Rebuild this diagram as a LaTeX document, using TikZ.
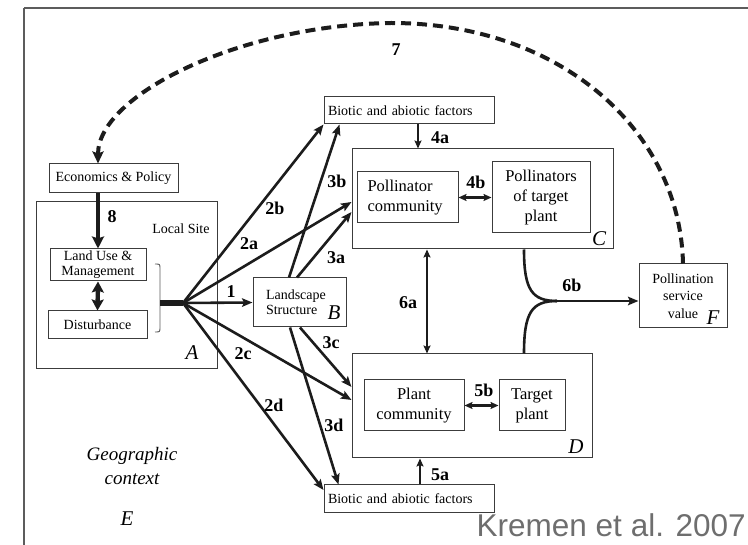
\documentclass[tikz,border=0pt]{standalone}
\usepackage{fontspec}
\setmainfont{Liberation Serif}
\newfontfamily\creditfont{Liberation Sans}
\usetikzlibrary{arrows.meta,calc}

\definecolor{ink}{HTML}{1C1C1C}
\definecolor{boxgray}{HTML}{3C3C3C}
\definecolor{framegray}{HTML}{5C5C5C}
\definecolor{creditgray}{HTML}{6E6E6E}

\newcommand\boxfont{\fontsize{14}{15}\selectfont}
\newcommand\bigboxfont{\fontsize{16.5}{20}\selectfont}

\begin{document}
\begin{tikzpicture}[x=1pt,y=-1pt,
  box/.style={draw=boxgray,line width=1pt,inner sep=0pt,font=\boxfont},
  bigbox/.style={box,font=\bigboxfont},
  num/.style={inner sep=0pt,font=\fontsize{18}{18}\selectfont\bfseries},
  letter/.style={inner sep=0pt,font=\fontsize{21}{21}\selectfont\itshape},
  tip/.style={-{Stealth[length=10.5pt,width=8.5pt,inset=2pt]}},
  conn/.style={draw=ink,line width=2.6pt,tip},
  thinconn/.style={draw=ink,line width=1.7pt,-{Stealth[length=8pt,width=7pt,inset=1.5pt]}},
  dbl/.style={draw=ink,line width=2.2pt,{Stealth[length=8pt,width=7pt,inset=1.5pt]}-{Stealth[length=8pt,width=7pt,inset=1.5pt]}},
  heavy/.style={draw=ink,line width=4.4pt},
  frame/.style={draw=framegray,line width=1.3pt},
  bracket/.style={draw=framegray,line width=0.9pt},
  loopback/.style={draw=ink,line width=4pt,dash pattern=on 10pt off 6pt,-{Stealth[length=12pt,width=11pt,inset=2pt]}}
]
\useasboundingbox (0,0) rectangle (748,545);

% outer frame of the geographic context
\draw[frame] (24,8) -- (748,8);
\draw[frame] (24,8) -- (24,545);

% local site
\node[box,minimum width=181pt,minimum height=167pt] (A) at (126.5,285.5) {};
\node[box,minimum width=129pt,minimum height=29pt] (econ) at (113.5,178.5) {Economics \& Policy};
\node[box,minimum width=96pt,minimum height=32pt,align=center] (land) at (98,265) {Land Use \&\\Management};
\node[box,minimum width=99pt,minimum height=28pt] (dist) at (97.5,325) {Disturbance};
\node[inner sep=0pt,font=\boxfont] (site) at (181,229) {Local Site};
\node[letter] (Alab) at (192,353) {A};

% landscape structure
\node[box,text width=67pt,inner xsep=13pt,minimum height=49pt,align=left] (B) at (299.5,302.5) {Landscape\\Structure};
\node[letter] (Blab) at (334,313) {B};

% biotic and abiotic factors
\node[box,text width=162pt,inner xsep=4pt,minimum height=27pt,align=left] (biotop) at (409,110.5) {Biotic and abiotic factors};
\node[box,text width=162pt,inner xsep=4pt,minimum height=28pt,align=left] (biobot) at (409,499) {Biotic and abiotic factors};

% pollinators
\node[box,minimum width=261pt,minimum height=100pt] (C) at (482.5,199) {};
\node[bigbox,text width=80pt,inner xsep=10.5pt,minimum height=51pt,align=left] (pc) at (407.5,197.5) {Pollinator\\community};
\node[bigbox,minimum width=98pt,minimum height=71pt,align=center] (pt) at (541,197.5) {Pollinators\\of target\\plant};
\node[letter] (Clab) at (599,239) {C};

% plants
\node[box,minimum width=240pt,minimum height=104pt] (D) at (472,406) {};
\node[bigbox,minimum width=100pt,minimum height=51pt,align=center] (plc) at (414,405.5) {Plant\\community};
\node[bigbox,minimum width=66pt,minimum height=51pt,align=center] (tp) at (532,405.5) {Target\\plant};
\node[letter] (Dlab) at (576,447) {D};

% pollination service value
\node[box,minimum width=88pt,minimum height=64pt,align=center,font=\fontsize{14}{17.5}\selectfont] (F) at (683,296) {Pollination\\service\\value};
\node[letter] (Flab) at (713,318) {F};

% geographic context
\node[inner sep=0pt,align=center,font=\fontsize{19}{24}\selectfont\itshape] (geo) at (132,466) {Geographic\\context};
\node[letter] (Elab) at (127,519) {E};

% credit line
\node[inner sep=0pt,anchor=base east,text=creditgray,font=\creditfont\fontsize{31.5}{31.5}\selectfont] (credit) at (746,537) {Kremen et al. 2007};

% helper coordinates
\coordinate (hub) at (183,303);
\coordinate (brk) at (160,303);
\coordinate (x4a) at (418,0);
\coordinate (x5a) at (420,0);
\coordinate (x6a) at (427,0);
\coordinate (x6b) at (524,0);
\coordinate (j6) at (557,301);

% bracket gathering land use and disturbance
\draw[bracket] (155,264) .. controls (160,264) .. (160,269) -- (160,327) .. controls (160,332) .. (155,332);
\draw[draw=ink,line width=6pt] (brk) -- (hub);

% management inside the site
\draw[heavy,-{Stealth[length=12pt,width=12pt,inset=2pt]}] (econ.south -| land.north) -- (land.north);
\draw[heavy,{Stealth[length=11pt,width=12pt,inset=2pt]}-{Stealth[length=11pt,width=12pt,inset=2pt]}] (land.south) -- (dist.north);

% effects of the local site
\draw[conn] (hub) -- (B.west);
\draw[conn] (hub) -- (biotop.south west);
\draw[conn] (hub) -- ([yshift=-3pt]C.west);
\draw[conn] (hub) -- ([yshift=6pt]D.west);
\draw[conn] (hub) -- ([yshift=9pt]biobot.west);

% effects of the landscape
\draw[conn] ([xshift=-10.5pt]B.north) -- ([xshift=16pt]biotop.south west);
\draw[conn] ([xshift=-2.5pt]B.north) -- ([yshift=-13pt]C.west);
\draw[conn] ([xshift=0.5pt]B.south) -- ([yshift=19pt]D.west);
\draw[conn] ([xshift=-9.5pt]B.south) -- ([xshift=15pt]biobot.north west);

% within the communities
\draw[thinconn] (biotop.south -| x4a) -- (C.north -| x4a);
\draw[thinconn] (biobot.north -| x5a) -- (D.south -| x5a);
\draw[dbl] (pc.east) -- (pc.east -| pt.west);
\draw[dbl] (plc.east) -- (plc.east -| tp.west);
\draw[dbl,line width=2pt] (C.south -| x6a) -- (D.north -| x6a);

% pollination service
\draw[draw=ink,line width=2.6pt] (C.south -| x6b) .. controls (524,290) and (532,301) .. (j6);
\draw[draw=ink,line width=2.6pt] (D.north -| x6b) .. controls (524,312) and (532,301) .. (j6);
\draw[conn] (j6) -- (j6 -| F.west);

% feedback to economics and policy
\draw[loopback] (F.north) .. controls (680,130) and (560,23) .. (391,23) .. controls (240,25) and (98,95) .. (econ.north -| land.north);

% connector labels
\node[num] (l1) at (231,292) {1};
\node[num] (l2a) at (249,244) {2a};
\node[num] (l2b) at (275,208) {2b};
\node[num] (l2c) at (243,354) {2c};
\node[num] (l2d) at (274,405) {2d};
\node[num] (l3a) at (336,258) {3a};
\node[num] (l3b) at (337,181) {3b};
\node[num] (l3c) at (331,343) {3c};
\node[num] (l3d) at (334,425) {3d};
\node[num] (l4a) at (440,138) {4a};
\node[num] (l4b) at (476,182) {4b};
\node[num] (l5a) at (440,475) {5a};
\node[num] (l5b) at (484,390) {5b};
\node[num] (l6a) at (408,303) {6a};
\node[num] (l6b) at (572,285) {6b};
\node[num] (l7) at (396,50) {7};
\node[num] (l8) at (112,217) {8};
\end{tikzpicture}
\end{document}
